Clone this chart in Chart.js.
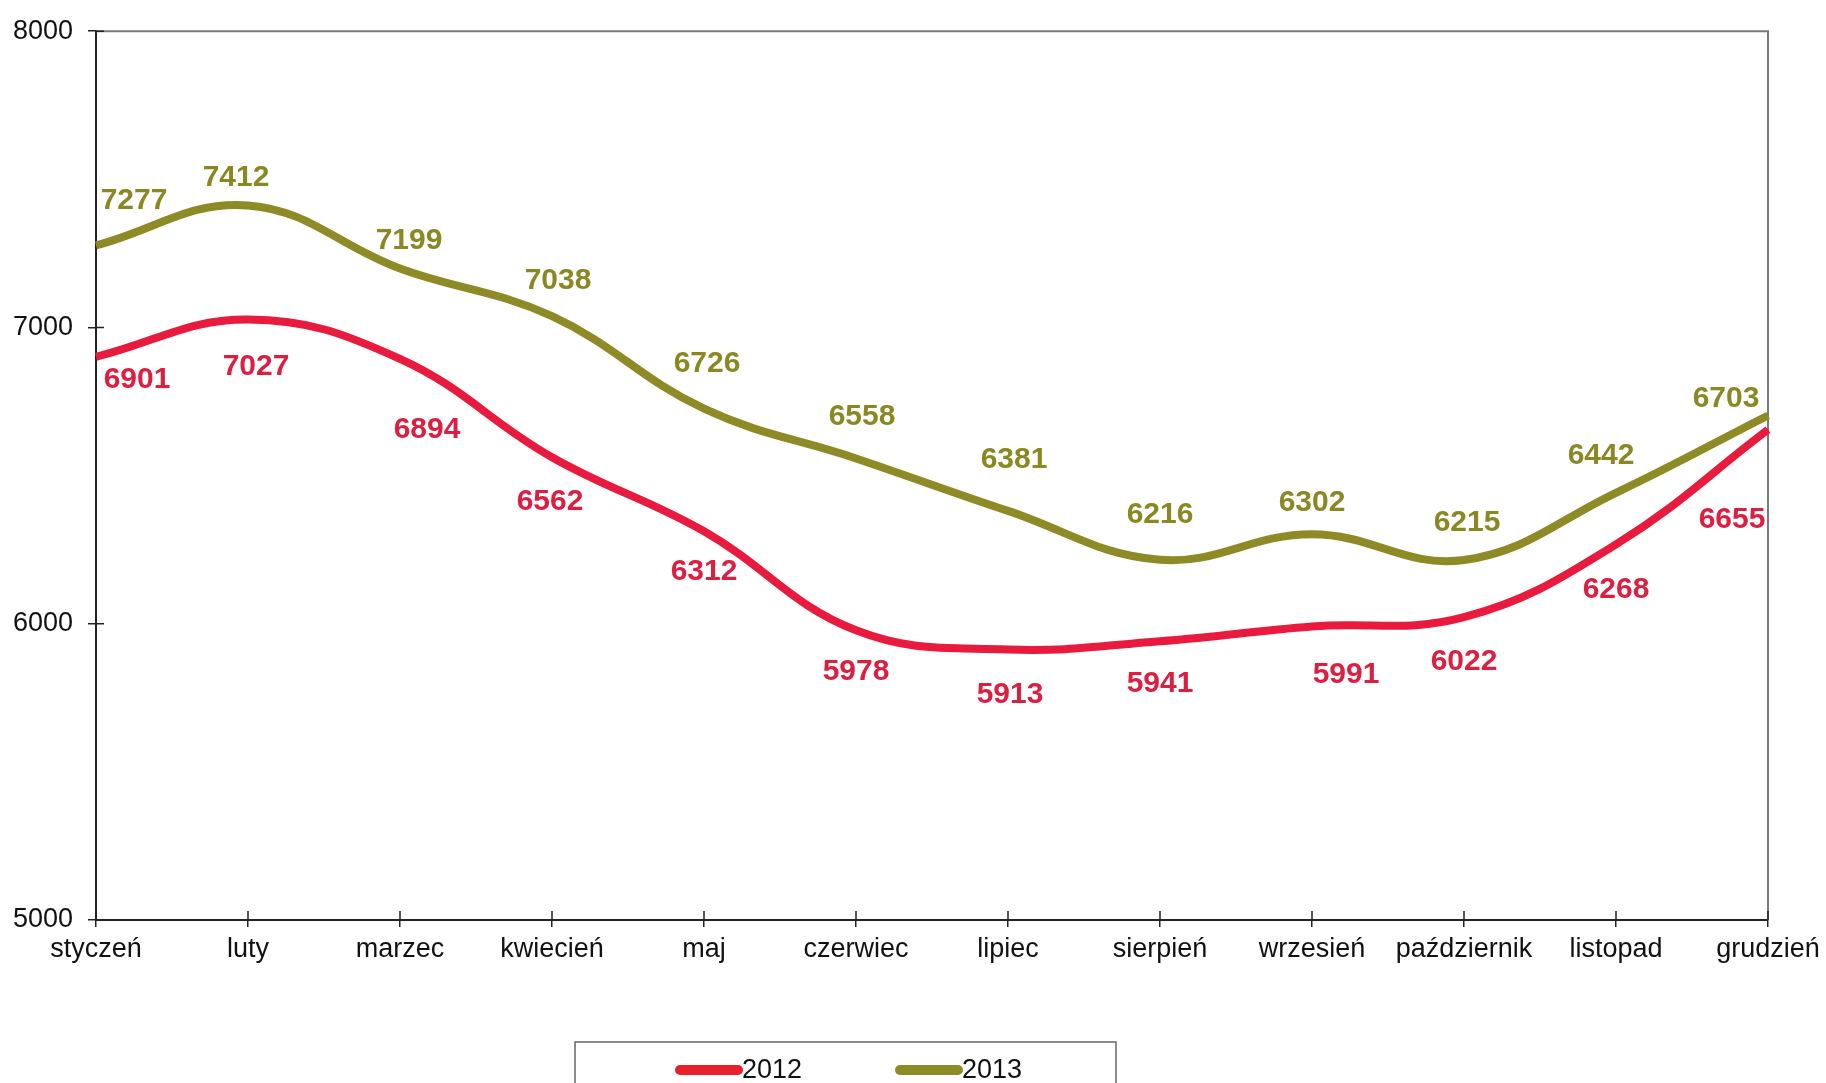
<!DOCTYPE html>
<html>
<head>
<meta charset="utf-8">
<script src="https://cdn.jsdelivr.net/npm/chart.js@4/dist/chart.umd.min.js"></script>
<style>
  html, body { margin: 0; padding: 0; background: #fff; }
  #wrap { width: 1826px; height: 1083px; }
</style>
</head>
<body>
<div id="wrap"><canvas id="chart" width="1826" height="1083"></canvas></div>
<script>
const MONTHS = ["styczeń", "luty", "marzec", "kwiecień", "maj", "czerwiec", "lipiec", "sierpień", "wrzesień", "październik", "listopad", "grudzień"];
const VALUES_2012 = [6901, 7027, 6894, 6562, 6312, 5978, 5913, 5941, 5991, 6022, 6268, 6655];
const VALUES_2013 = [7277, 7412, 7199, 7038, 6726, 6558, 6381, 6216, 6302, 6215, 6442, 6703];
const Y_MIN = 5000;
const Y_MAX = 8000;
const Y_STEP = 1000;

const RED = "#e81a3e";
const OLIVE = "#8e8a26";
const FONT = "'Liberation Sans', Arial, sans-serif";

// label nudges (px) so numbers sit where the original put them
const NUDGE_2012 = {
  dx: [41, 8, 27, -2, 0, 0, 2, 0, 34, 0, 0, -36],
  dy: [-22, 2, 26, 0, -5, -4, 0, -2, 3, 0, 0, 45],
};
const NUDGE_2013 = {
  dx: [38, -12, 9, 6, 3, 6, 6, 0, 0, 3, -15, -42],
  dy: [0, 17, 17, 10, 0, 3, -6, 0, 13, 8, 8, 28],
};

const valueLabels = {
  id: "valueLabels",
  afterDatasetsDraw(chart) {
    const ctx = chart.ctx;
    ctx.save();
    ctx.font = "bold 30px " + FONT;
    ctx.textAlign = "center";
    ctx.textBaseline = "middle";
    chart.data.datasets.forEach((ds, i) => {
      const meta = chart.getDatasetMeta(i);
      const nudge = i === 0 ? NUDGE_2012 : NUDGE_2013;
      const base = i === 0 ? 45 : -45;
      ctx.fillStyle = ds.labelColor;
      meta.data.forEach((pt, j) => {
        ctx.fillText(String(ds.data[j]), pt.x + nudge.dx[j], pt.y + base + nudge.dy[j]);
      });
    });
    ctx.restore();
  },
};

const frame = {
  id: "frame",
  beforeDatasetsDraw(chart) {
    const { ctx, chartArea: a, scales } = chart;
    ctx.save();
    // gray top and right edges
    ctx.strokeStyle = "#7a7a7a";
    ctx.lineWidth = 2;
    ctx.beginPath();
    ctx.moveTo(a.left, a.top);
    ctx.lineTo(a.right, a.top);
    ctx.lineTo(a.right, a.bottom);
    ctx.stroke();
    // inner halves of tick marks
    ctx.strokeStyle = "#222";
    ctx.lineWidth = 1.5;
    ctx.beginPath();
    scales.x.ticks.forEach((t, k) => {
      const x = scales.x.getPixelForTick(k);
      ctx.moveTo(x, a.bottom);
      ctx.lineTo(x, a.bottom - 9);
    });
    scales.y.ticks.forEach((t, k) => {
      const y = scales.y.getPixelForTick(k);
      ctx.moveTo(a.left, y);
      ctx.lineTo(a.left + 8, y);
    });
    ctx.stroke();
    ctx.restore();
  },
};

const boxLegend = {
  id: "boxLegend",
  afterDraw(chart) {
    const ctx = chart.ctx;
    ctx.save();
    ctx.strokeStyle = "#666";
    ctx.lineWidth = 1.5;
    ctx.strokeRect(575, 1042, 541, 60);
    ctx.font = "27px " + FONT;
    ctx.textBaseline = "middle";
    ctx.textAlign = "left";
    const starts = [680, 900];
    chart.data.datasets.forEach((ds, i) => {
      const x = starts[i];
      const y = 1070;
      ctx.strokeStyle = ds.legendColor;
      ctx.lineWidth = 10;
      ctx.lineCap = "round";
      ctx.beginPath();
      ctx.moveTo(x, y);
      ctx.lineTo(x + 58, y);
      ctx.stroke();
      ctx.fillStyle = "#111";
      ctx.fillText(ds.label, x + 62, y + 1);
    });
    ctx.restore();
  },
};

new Chart(document.getElementById("chart"), {
  type: "line",
  data: {
    labels: MONTHS,
    datasets: [
      {
        label: "2012",
        data: VALUES_2012,
        borderColor: RED,
        legendColor: "#e8202a",
        labelColor: "#dc1f40",
        borderWidth: 8,
        pointRadius: 0,
        tension: 0.4,
        fill: false,
      },
      {
        label: "2013",
        data: VALUES_2013,
        borderColor: OLIVE,
        legendColor: OLIVE,
        labelColor: "#8a8822",
        borderWidth: 8,
        pointRadius: 0,
        tension: 0.4,
        fill: false,
      },
    ],
  },
  options: {
    responsive: false,
    animation: false,
    layout: { padding: { top: 28, right: 58, left: 0, bottom: 0 } },
    plugins: {
      legend: { display: false },
      tooltip: { enabled: false },
    },
    scales: {
      x: {
        offset: false,
        grid: { drawOnChartArea: false, drawTicks: true, tickLength: 7, color: "#222", lineWidth: 1.5 },
        border: { display: true, color: "#222", width: 2 },
        ticks: {
          color: "#111",
          font: { family: FONT, size: 27 },
          padding: 6,
          maxRotation: 0,
          autoSkip: false,
        },
        afterFit: (s) => { s.height = 163; },
      },
      y: {
        min: Y_MIN,
        max: Y_MAX,
        grid: { drawOnChartArea: false, drawTicks: true, tickLength: 8, color: "#222", lineWidth: 1.5 },
        border: { display: true, color: "#222", width: 2 },
        ticks: {
          stepSize: Y_STEP,
          color: "#111",
          font: { family: FONT, size: 27 },
          padding: 15,
          callback: (v) => String(v),
        },
        afterFit: (s) => { s.width = 96; },
      },
    },
  },
  plugins: [frame, valueLabels, boxLegend],
});
</script>
</body>
</html>
